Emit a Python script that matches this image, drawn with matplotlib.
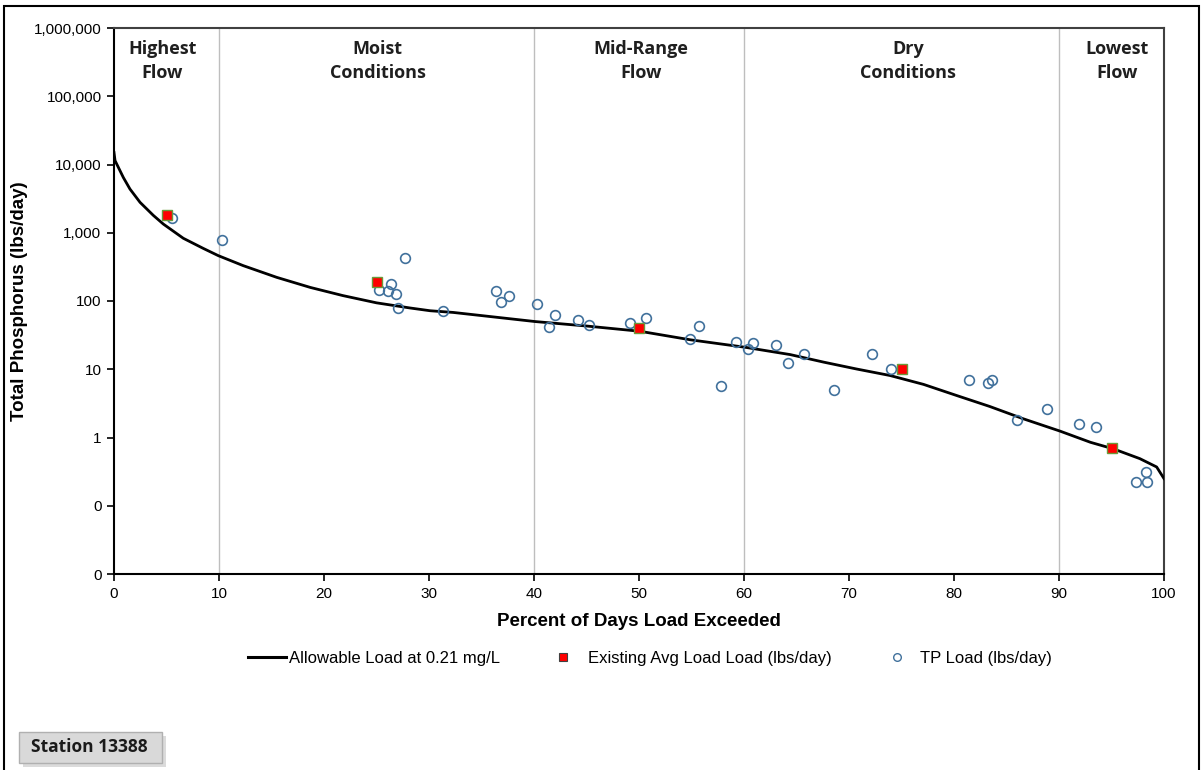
import matplotlib
matplotlib.use("Agg")
import matplotlib.pyplot as plt
from matplotlib.ticker import FuncFormatter, FixedLocator, NullLocator
from matplotlib.patches import Rectangle
from matplotlib.lines import Line2D

# ---- data ----
curve_x = [0, 0.1, 0.89, 1.52, 2.48, 3.74, 4.7, 6.6, 8.5, 9.93, 12.3, 15.5, 18.7,
           21.8, 25.0, 28.2, 30.1, 32.3, 40.1, 45.0, 50.1, 54.9, 60.1, 64.4, 67.6,
           70.7, 73.9, 77.1, 80.3, 83.4, 86.6, 90.1, 93.0, 95.2, 97.7, 99.3, 100]
curve_y = [15000, 11400, 6450, 4370, 2790, 1800, 1340, 830, 590, 462, 330, 222, 158,
           120, 94, 79, 72, 68, 50, 43, 36, 27, 21, 16.4, 12.7,
           10.1, 8.1, 6.0, 4.1, 2.85, 1.88, 1.24, 0.85, 0.68, 0.49, 0.37, 0.25]

avg_x = [5, 25, 50, 75, 95]
avg_y = [1800, 190, 40, 10, 0.7]

tp_x = [5.5, 10.3, 27.7, 26.4, 25.2, 26.1, 26.9, 27.0, 31.3, 36.4, 37.6, 36.9, 40.3,
        42.0, 41.4, 44.2, 45.2, 49.1, 50.7, 55.7, 54.9, 57.8, 59.2, 60.4, 60.9, 63.0,
        64.2, 65.7, 68.6, 72.2, 74.0, 81.4, 83.2, 83.6, 86.0, 88.9, 91.9, 93.5, 98.3,
        97.3, 98.4]
tp_y = [1660, 790, 427, 178, 145, 139, 127, 78, 72, 141, 117, 96, 91,
        63, 42, 52, 45, 47, 57, 43, 28, 5.7, 25, 19.6, 24, 23,
        12.2, 17, 5.0, 17, 10.1, 6.9, 6.2, 6.9, 1.8, 2.6, 1.57, 1.42, 0.31,
        0.22, 0.22]

zone_bounds = [10, 40, 60, 90]
zone_x = [4.6, 25.1, 50.2, 75.6, 95.5]
zone_labels = ["Highest\nFlow", "Moist\nConditions", "Mid-Range\nFlow",
               "Dry\nConditions", "Lowest\nFlow"]

y_ticks = [0.01, 0.1, 1, 10, 100, 1000, 10000, 100000, 1000000]
x_ticks = [0, 10, 20, 30, 40, 50, 60, 70, 80, 90, 100]

SANS = ["Liberation Sans", "DejaVu Sans"]
BOLD = ["Open Sans", "Lato", "DejaVu Sans"]

# ---- figure ----
W, H = 1204, 770
fig = plt.figure(figsize=(W / 100, H / 100), dpi=100)
fig.patch.set_facecolor("white")

ax = fig.add_axes([114 / W, 1 - 574 / H, (1164 - 114) / W, (574 - 28) / H])
ax.set_yscale("log")
ax.set_xlim(0, 100)
ax.set_ylim(0.01, 1000000)

for b in zone_bounds:
    ax.axvline(b, color="#BEBEBE", lw=1.0, zorder=1)

ax.plot(curve_x, curve_y, color="black", lw=2.0, zorder=3, solid_joinstyle="round")
ax.plot(avg_x, avg_y, linestyle="none", marker="s", markersize=6.5,
        markerfacecolor="#FF0000", markeredgecolor="#6A9A3A", markeredgewidth=1.0,
        zorder=5)
ax.plot(tp_x, tp_y, linestyle="none", marker="o", markersize=7,
        markerfacecolor="none", markeredgecolor="#41719C", markeredgewidth=1.2,
        zorder=4)

ax.yaxis.set_major_locator(FixedLocator(y_ticks))
ax.yaxis.set_minor_locator(NullLocator())
ax.yaxis.set_major_formatter(FuncFormatter(lambda v, p: "{:,.0f}".format(v)))
ax.xaxis.set_major_locator(FixedLocator(x_ticks))

ax.tick_params(axis="both", direction="out", length=5, width=1.2, colors="black",
               labelsize=11, pad=4)
for lab in ax.get_xticklabels() + ax.get_yticklabels():
    lab.set_fontfamily(SANS)

for s in ["left", "bottom"]:
    ax.spines[s].set_color("black")
    ax.spines[s].set_linewidth(1.5)
for s in ["top", "right"]:
    ax.spines[s].set_color("#404040")
    ax.spines[s].set_linewidth(1.5)

ax.set_xlabel("Percent of Days Load Exceeded", fontsize=13.5, fontweight="bold",
              family=SANS, labelpad=9)
ax.set_ylabel("Total Phosphorus (lbs/day)", fontsize=13.5, fontweight="bold",
              family=SANS)
ax.yaxis.set_label_coords(-0.082, 0.5)

for zx, zl in zip(zone_x, zone_labels):
    ax.text(zx, 0.978, zl, transform=ax.get_xaxis_transform(), ha="center", va="top",
            fontsize=13, fontweight="bold", color="#1F1F1F",
            family=BOLD, linespacing=1.45)

# legend: three entries placed like the original
leg_font = {"family": SANS, "size": 12}
entries = [
    (Line2D([], [], color="black", lw=2.2), "Allowable Load at 0.21 mg/L", 248, 2.3, 0.15),
    (Line2D([], [], linestyle="none", marker="s", markersize=5.5,
            markerfacecolor="#FF0000", markeredgecolor="#404040", markeredgewidth=0.8),
     "Existing Avg Load Load (lbs/day)", 555, 1.0, 0.95),
    (Line2D([], [], linestyle="none", marker="o", markersize=5.5,
            markerfacecolor="none", markeredgecolor="#41719C", markeredgewidth=1.0),
     "TP Load (lbs/day)", 889, 1.0, 0.85),
]
for h, t, xpx, hl, tp in entries:
    fig.legend([h], [t], loc="center left", bbox_to_anchor=(xpx / W, 1 - 658 / H),
               frameon=False, prop=leg_font, handlelength=hl, handletextpad=tp,
               borderpad=0, borderaxespad=0)

# figure border
fig.add_artist(Rectangle((4 / W, -0.01), (1199 - 4) / W, 1 - 6 / H + 0.01,
                         transform=fig.transFigure, fill=False, edgecolor="black",
                         lw=1.5, zorder=0))

# station box with shadow
fig.add_artist(Rectangle((23 / W, 1 - 767 / H), 143 / W, 31 / H, transform=fig.transFigure,
                         facecolor="#C4C4C4", edgecolor="none", alpha=0.6, zorder=2))
fig.add_artist(Rectangle((19 / W, 1 - 763 / H), 143 / W, 31 / H, transform=fig.transFigure,
                         facecolor="#D9D9D9", edgecolor="#B0B0B0", lw=1.0, zorder=3))
fig.text(89 / W, 1 - 747 / H, "Station 13388", ha="center", va="center", fontsize=12.5,
         fontweight="bold", family=BOLD, zorder=4, color="#1A1A1A")

fig.savefig("out.png", dpi=100, facecolor="white")
